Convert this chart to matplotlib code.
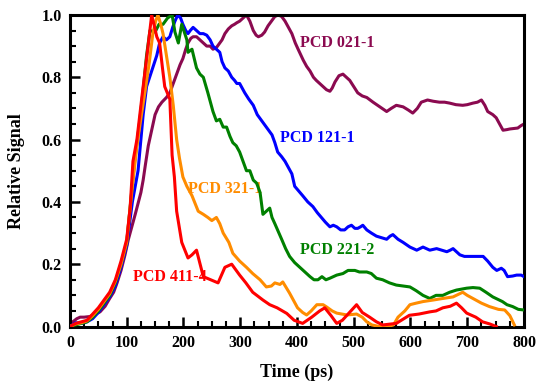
import matplotlib
matplotlib.use("Agg")
import matplotlib.pyplot as plt
from matplotlib.ticker import MultipleLocator

plt.rcParams['font.family'] = ['Liberation Serif', 'DejaVu Serif']
plt.rcParams['font.weight'] = 'bold'

# ---- data ----
red_x = [0, 10, 20, 30, 40, 50, 60, 70, 80, 90, 100, 106, 111, 118, 127, 137, 144, 148, 153, 158, 163, 167,
         176, 180, 184, 188, 197, 208, 215, 223, 235, 248, 261, 273, 285, 299, 310, 322, 340, 352, 365, 382,
         395, 410, 426, 440, 449, 460, 470, 480, 495, 505, 515, 528, 540, 551, 575, 598, 615, 634, 645, 657,
         670, 681, 690, 699, 715, 727, 740, 751]
red_y = [0.0, 0.01, 0.015, 0.02, 0.04, 0.06, 0.085, 0.11, 0.15, 0.21, 0.28, 0.38, 0.53, 0.6, 0.74, 0.89, 1.0, 0.97,
         0.93, 0.91, 0.83, 0.77, 0.73, 0.55, 0.48, 0.37, 0.27, 0.22, 0.23, 0.245, 0.16, 0.15, 0.14, 0.19, 0.2,
         0.165, 0.14, 0.11, 0.085, 0.07, 0.06, 0.042, 0.02, 0.01, 0.03, 0.05, 0.06, 0.035, 0.01, 0.02, 0.05,
         0.07, 0.045, 0.03, 0.015, 0.005, 0.01, 0.036, 0.04, 0.047, 0.05, 0.06, 0.065, 0.075, 0.06, 0.043,
         0.03, 0.015, 0.008, 0.0]

orange_x = [0, 10, 20, 30, 40, 50, 60, 70, 80, 90, 100, 110, 118, 126, 132, 140, 146, 151, 155, 160, 164, 170,
            176, 182, 188, 193, 199, 206, 215, 226, 235, 243, 250, 258, 264, 270, 280, 287, 299, 311, 322, 335,
            346, 355, 361, 370, 375, 387, 401, 410, 417, 425, 435, 446, 452, 462, 470, 488, 505, 515, 523, 532,
            545, 560, 570, 578, 590, 599, 610, 622, 640, 657, 675, 692, 700, 710, 725, 739, 755, 766, 775, 783]
orange_y = [0.0, 0.008, 0.012, 0.018, 0.035, 0.055, 0.08, 0.105, 0.145, 0.2, 0.27, 0.45, 0.58, 0.68, 0.75, 0.85,
            0.94, 0.98, 1.0, 0.97, 0.94, 0.87, 0.8, 0.71, 0.6, 0.54, 0.48, 0.45, 0.42, 0.37, 0.36, 0.35, 0.34,
            0.35, 0.33, 0.3, 0.27, 0.235, 0.21, 0.19, 0.17, 0.15, 0.127, 0.13, 0.14, 0.135, 0.143, 0.107, 0.06,
            0.045, 0.037, 0.05, 0.07, 0.07, 0.063, 0.05, 0.043, 0.037, 0.04, 0.03, 0.015, 0.005, 0.0, 0.0, 0.005,
            0.03, 0.05, 0.07, 0.075, 0.08, 0.085, 0.09, 0.095, 0.11, 0.1, 0.09, 0.075, 0.064, 0.055, 0.053,
            0.035, 0.005]

green_x = [0, 10, 20, 30, 40, 50, 60, 70, 80, 90, 100, 107, 114, 123, 129, 135, 141, 150, 157, 164, 172, 180,
           185, 191, 197, 206, 208, 215, 223, 229, 235, 243, 252, 258, 264, 270, 276, 282, 287, 293, 299, 305,
           311, 317, 323, 329, 335, 340, 346, 352, 356, 361, 367, 373, 380, 387, 396, 405, 414, 423, 430, 437,
           444, 451, 458, 470, 481, 490, 502, 510, 523, 531, 540, 551, 563, 575, 587, 599, 610, 622, 634, 645,
           657, 669, 681, 690, 699, 710, 722, 733, 745, 762, 770, 780, 790, 800]
green_y = [0.0, 0.005, 0.01, 0.015, 0.03, 0.05, 0.075, 0.1, 0.14, 0.2, 0.27, 0.4, 0.53, 0.66, 0.76, 0.87, 0.95,
           0.945, 0.97, 0.97, 0.99, 1.0, 0.945, 0.91, 0.97, 0.92, 0.88, 0.89, 0.83, 0.81, 0.8, 0.75, 0.69, 0.66,
           0.665, 0.64, 0.64, 0.61, 0.59, 0.58, 0.56, 0.53, 0.5, 0.5, 0.47, 0.46, 0.43, 0.36, 0.37, 0.38, 0.35,
           0.33, 0.305, 0.28, 0.25, 0.225, 0.205, 0.19, 0.175, 0.16, 0.15, 0.15, 0.16, 0.15, 0.155, 0.165, 0.17,
           0.18, 0.18, 0.175, 0.175, 0.17, 0.155, 0.15, 0.14, 0.133, 0.13, 0.127, 0.115, 0.1, 0.09, 0.1, 0.1,
           0.11, 0.117, 0.12, 0.123, 0.125, 0.123, 0.11, 0.095, 0.08, 0.07, 0.064, 0.055, 0.053]

blue_x = [0, 10, 20, 30, 40, 50, 60, 70, 80, 90, 100, 110, 120, 125, 129, 135, 144, 153, 158, 164, 170, 176,
          181, 185, 190, 195, 199, 204, 208, 212, 217, 223, 229, 235, 241, 247, 252, 258, 264, 268, 273, 279,
          285, 290, 294, 299, 308, 315, 323, 330, 338, 346, 356, 361, 366, 373, 379, 385, 391, 396, 403, 410,
          419, 428, 436, 443, 450, 458, 464, 470, 477, 484, 490, 496, 502, 507, 512, 516, 523, 531, 540, 549,
          558, 564, 569, 578, 587, 599, 611, 622, 634, 646, 655, 664, 670, 675, 681, 687, 695, 704, 716, 728,
          736, 745, 752, 760, 765, 771, 780, 787, 795, 800]
blue_y = [0.0, 0.012, 0.01, 0.015, 0.025, 0.045, 0.07, 0.095, 0.13, 0.19, 0.26, 0.4, 0.5, 0.6, 0.68, 0.77, 0.82,
          0.87, 0.91, 0.93, 0.92, 0.93, 0.96, 0.98, 1.0, 0.99, 0.97, 0.95, 0.94, 0.95, 0.96, 0.95, 0.94, 0.94,
          0.935, 0.92, 0.9, 0.89, 0.88, 0.85, 0.83, 0.82, 0.8, 0.79, 0.78, 0.78, 0.75, 0.73, 0.71, 0.68, 0.66,
          0.64, 0.615, 0.59, 0.56, 0.545, 0.53, 0.51, 0.49, 0.45, 0.435, 0.42, 0.4, 0.385, 0.365, 0.35, 0.335,
          0.32, 0.325, 0.32, 0.31, 0.31, 0.32, 0.325, 0.315, 0.315, 0.32, 0.325, 0.31, 0.3, 0.29, 0.285, 0.28,
          0.29, 0.295, 0.28, 0.27, 0.255, 0.245, 0.255, 0.245, 0.25, 0.245, 0.24, 0.245, 0.25, 0.24, 0.23,
          0.225, 0.225, 0.225, 0.225, 0.21, 0.19, 0.18, 0.187, 0.18, 0.16, 0.162, 0.165, 0.165, 0.16]

purple_x = [0, 5, 12, 18, 25, 35, 45, 53, 62, 70, 77, 83, 90, 97, 103, 109, 115, 120, 125, 129, 133, 138, 144,
            150, 156, 162, 170, 176, 182, 188, 194, 199, 204, 208, 213, 217, 223, 229, 235, 241, 247, 252, 258,
            264, 268, 273, 279, 285, 290, 294, 299, 305, 311, 317, 323, 328, 332, 338, 343, 349, 355, 361, 367,
            373, 379, 385, 391, 397, 402, 411, 417, 423, 429, 434, 440, 446, 452, 458, 462, 467, 474, 481, 487,
            493, 500, 507, 515, 523, 534, 546, 558, 566, 575, 587, 596, 604, 612, 619, 630, 640, 651, 660, 669,
            680, 692, 700, 710, 718, 725, 731, 736, 745, 751, 757, 763, 770, 775, 789, 795, 800]
purple_y = [0.0, 0.015, 0.025, 0.03, 0.03, 0.032, 0.04, 0.047, 0.065, 0.09, 0.11, 0.14, 0.18, 0.23, 0.28, 0.32,
            0.36, 0.395, 0.43, 0.47, 0.52, 0.58, 0.63, 0.68, 0.705, 0.72, 0.735, 0.75, 0.78, 0.81, 0.84, 0.86,
            0.89, 0.91, 0.925, 0.93, 0.93, 0.92, 0.91, 0.9, 0.9, 0.89, 0.895, 0.91, 0.92, 0.94, 0.955, 0.965,
            0.97, 0.975, 0.98, 0.99, 1.0, 0.98, 0.95, 0.935, 0.93, 0.935, 0.945, 0.965, 0.98, 0.995, 1.0, 0.995,
            0.98, 0.96, 0.94, 0.91, 0.89, 0.855, 0.835, 0.82, 0.8, 0.79, 0.78, 0.77, 0.76, 0.755, 0.765, 0.785,
            0.805, 0.81, 0.8, 0.79, 0.77, 0.75, 0.74, 0.735, 0.72, 0.705, 0.69, 0.7, 0.71, 0.705, 0.695, 0.685,
            0.7, 0.72, 0.727, 0.723, 0.72, 0.72, 0.717, 0.712, 0.71, 0.712, 0.717, 0.72, 0.727, 0.71, 0.69, 0.68,
            0.67, 0.65, 0.63, 0.632, 0.634, 0.637, 0.645, 0.65]

labels = ["PCD 021-1", "PCD 121-1", "PCD 221-2", "PCD 321-1", "PCD 411-4"]
label_x = [405, 370, 405, 208, 111]
label_y = [0.91, 0.605, 0.245, 0.44, 0.16]

C_PURPLE = "#8B0A50"
C_BLUE = "#0000FF"
C_GREEN = "#008000"
C_ORANGE = "#FF8C00"
C_RED = "#FF0000"

fig = plt.figure(figsize=(5.38, 3.83), dpi=100)
ax = fig.add_axes([0.130, 0.1475, 0.844, 0.8135])

lw = 2.2
ax.plot(purple_x, purple_y, color=C_PURPLE, lw=lw, zorder=2)
ax.plot(blue_x, blue_y, color=C_BLUE, lw=lw, zorder=3)
ax.plot(green_x, green_y, color=C_GREEN, lw=lw, zorder=4)
ax.plot(orange_x, orange_y, color=C_ORANGE, lw=lw, zorder=5)
ax.plot(red_x, red_y, color=C_RED, lw=lw, zorder=6)

colors = [C_PURPLE, C_BLUE, C_GREEN, C_ORANGE, C_RED]
for t, x, y, c in zip(labels, label_x, label_y, colors):
    ax.text(x, y, t, color=c, fontsize=11.5, fontweight='bold', ha='left', va='center', zorder=1)

ax.set_xlim(0, 800)
ax.set_ylim(0, 1.0)
ax.xaxis.set_major_locator(MultipleLocator(100))
ax.xaxis.set_minor_locator(MultipleLocator(25))
ax.yaxis.set_major_locator(MultipleLocator(0.2))
ax.yaxis.set_minor_locator(MultipleLocator(0.05))
ax.yaxis.set_major_formatter(matplotlib.ticker.FormatStrFormatter('%.1f'))
ax.tick_params(axis='both', which='major', direction='in', length=7, width=1.8, labelsize=11.5,
               top=False, right=False, pad=6)
ax.tick_params(axis='both', which='minor', direction='in', length=4, width=1.5, top=False, right=False)
for lab in ax.get_xticklabels() + ax.get_yticklabels():
    lab.set_fontweight('bold')
for s in ax.spines.values():
    s.set_linewidth(2.2)

ax.set_xlabel("Time (ps)", fontsize=13, fontweight='bold', labelpad=9)
ax.set_ylabel("Relative Signal", fontsize=13, fontweight='bold', labelpad=12)

fig.savefig("out.png", dpi=100)
